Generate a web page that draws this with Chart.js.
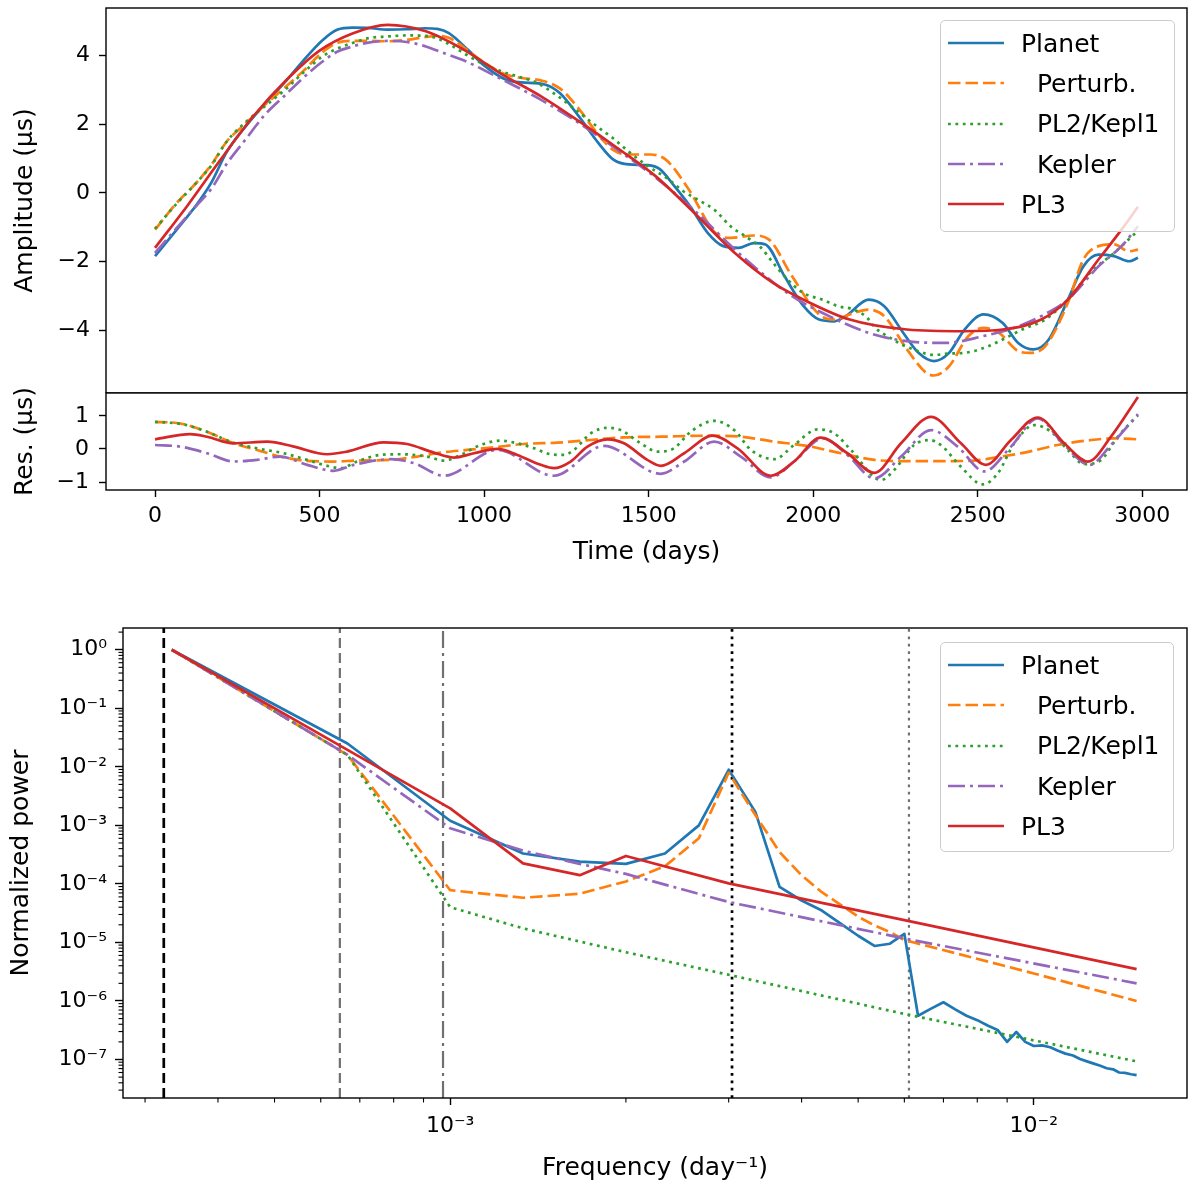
<!DOCTYPE html>
<html>
<head>
<meta charset="utf-8">
<title>Timing amplitude, residuals and power spectrum</title>
<script src="https://cdn.jsdelivr.net/npm/chart.js@4.4.1/dist/chart.umd.min.js"></script>
<style>
  html, body { margin: 0; padding: 0; background: #fff; }
  #fig { position: relative; width: 1200px; height: 1190px; overflow: hidden; font-family: "DejaVu Sans", sans-serif; }
  #fig canvas { position: absolute; left: 0; }
  .legend { position: absolute; box-sizing: border-box; background: rgba(255,255,255,0.8); border: 1.3px solid #cccccc; border-radius: 5px; padding: 2px 0 0 7px; }
  .legend .row { display: flex; align-items: center; height: 40.3px; font-size: 25px; color: #000; white-space: pre; }
  .legend svg { margin-right: 17px; flex: none; }
</style>
</head>
<body>
<div id="fig">
  <canvas id="amp" width="1200" height="393" style="top:0px"></canvas>
  <canvas id="res" width="1200" height="215" style="top:360px"></canvas>
  <canvas id="psd" width="1200" height="590" style="top:600px"></canvas>
  <div class="legend" id="legTop" style="left:940px; top:20px; width:235px; height:212px"></div>
  <div class="legend" id="legBot" style="left:940px; top:642px; width:234px; height:210px"></div>
</div>
<script>
// ---------- top panel: amplitude (µs) vs time (days) ----------
const planetDays = [0, 66, 125, 171, 218, 276, 334, 392, 450, 509, 555, 600, 648, 707, 765, 820, 858, 893, 951, 997, 1067, 1114, 1184, 1230, 1288, 1347, 1393, 1440, 1498, 1533, 1579, 1626, 1680, 1727, 1773, 1820, 1855, 1913, 1971, 2018, 2064, 2099, 2169, 2216, 2274, 2320, 2367, 2413, 2460, 2518, 2576, 2623, 2670, 2716, 2774, 2821, 2867, 2914, 2960, 2987];
const planetAmp = [-1.84, -1.07, -0.36, 0.30, 1.20, 1.95, 2.60, 3.20, 3.85, 4.45, 4.76, 4.82, 4.81, 4.76, 4.77, 4.80, 4.78, 4.66, 4.17, 3.74, 3.30, 3.22, 3.16, 2.91, 2.23, 1.46, 0.97, 0.83, 0.81, 0.70, 0.19, -0.39, -1.17, -1.55, -1.60, -1.46, -1.50, -2.43, -3.30, -3.69, -3.74, -3.59, -3.11, -3.30, -4.08, -4.66, -4.90, -4.66, -3.98, -3.54, -3.79, -4.37, -4.56, -4.27, -3.11, -2.14, -1.80, -1.84, -1.99, -1.89];

const perturbDays = [0, 66, 125, 171, 218, 276, 334, 392, 450, 509, 555, 600, 650, 707, 765, 820, 858, 893, 951, 997, 1067, 1114, 1172, 1230, 1288, 1347, 1393, 1440, 1505, 1552, 1622, 1703, 1750, 1820, 1866, 1936, 2018, 2064, 2111, 2169, 2216, 2285, 2343, 2367, 2413, 2472, 2518, 2565, 2623, 2658, 2705, 2774, 2821, 2867, 2914, 2960, 2987];
const perturbAmp = [-1.07, -0.29, 0.29, 0.82, 1.50, 2.03, 2.57, 3.05, 3.55, 4.10, 4.38, 4.43, 4.43, 4.42, 4.46, 4.54, 4.58, 4.52, 4.15, 3.82, 3.45, 3.35, 3.28, 3.05, 2.45, 1.70, 1.25, 1.12, 1.12, 0.97, 0.10, -1.17, -1.31, -1.24, -1.36, -2.43, -3.54, -3.69, -3.54, -3.40, -3.59, -4.56, -5.24, -5.32, -5.05, -4.17, -3.93, -4.08, -4.61, -4.66, -4.47, -3.20, -1.94, -1.55, -1.50, -1.70, -1.65];

const pl2Days = [0, 66, 125, 171, 218, 276, 334, 392, 450, 509, 555, 600, 648, 707, 765, 820, 858, 900, 951, 997, 1060, 1114, 1156, 1220, 1288, 1347, 1391, 1440, 1498, 1560, 1605, 1650, 1701, 1750, 1797, 1840, 1871, 1920, 1967, 2031, 2075, 2117, 2160, 2191, 2230, 2266, 2310, 2367, 2413, 2460, 2518, 2576, 2635, 2705, 2774, 2844, 2914, 2987];
const pl2Amp = [-1.04, -0.31, 0.29, 0.80, 1.50, 2.07, 2.53, 2.98, 3.50, 3.98, 4.21, 4.37, 4.51, 4.56, 4.59, 4.58, 4.50, 4.30, 4.00, 3.76, 3.52, 3.36, 3.23, 2.85, 2.35, 1.91, 1.60, 1.20, 0.78, 0.40, 0.05, -0.20, -0.50, -0.98, -1.28, -1.58, -1.95, -2.50, -2.90, -3.12, -3.30, -3.38, -3.60, -3.95, -4.20, -4.40, -4.58, -4.72, -4.68, -4.66, -4.52, -4.27, -3.98, -3.69, -3.10, -2.30, -1.75, -1.10];

const keplerDays = [0, 66, 125, 171, 218, 276, 334, 392, 450, 509, 555, 600, 648, 707, 765, 823, 879, 939, 1056, 1172, 1288, 1405, 1521, 1649, 1762, 1843, 1936, 2029, 2169, 2285, 2402, 2518, 2611, 2693, 2774, 2867, 2937, 2987];
const keplerAmp = [-1.75, -1.02, -0.38, 0.12, 0.85, 1.57, 2.28, 2.82, 3.35, 3.83, 4.12, 4.27, 4.38, 4.43, 4.40, 4.27, 4.07, 3.86, 3.30, 2.72, 2.04, 1.26, 0.45, -0.60, -1.65, -2.33, -3.01, -3.50, -4.08, -4.32, -4.37, -4.17, -3.93, -3.59, -3.11, -2.14, -1.55, -0.97];

const pl3Days = [0, 100, 200, 300, 400, 500, 600, 707, 823, 939, 1056, 1172, 1288, 1405, 1521, 1649, 1762, 1878, 1971, 2111, 2285, 2460, 2576, 2693, 2774, 2867, 2937, 2987];
const pl3Amp = [-1.60, -0.35, 0.98, 2.25, 3.30, 4.15, 4.65, 4.90, 4.71, 4.17, 3.45, 2.82, 2.09, 1.31, 0.49, -0.68, -1.75, -2.62, -3.11, -3.69, -3.98, -4.03, -3.98, -3.69, -3.11, -1.94, -1.07, -0.40];

// ---------- middle panel: residuals (µs) ----------
const perturbResDays = [0, 77, 158, 239, 310, 381, 462, 543, 614, 716, 797, 868, 949, 1030, 1121, 1223, 1324, 1425, 1537, 1679, 1780, 1882, 1983, 2084, 2186, 2287, 2388, 2490, 2571, 2642, 2743, 2845, 2916, 2987];
const perturbRes = [0.82, 0.77, 0.52, 0.17, -0.03, -0.23, -0.36, -0.38, -0.35, -0.33, -0.23, -0.11, -0.03, 0.05, 0.15, 0.19, 0.27, 0.35, 0.37, 0.40, 0.37, 0.22, 0.09, -0.13, -0.33, -0.37, -0.37, -0.35, -0.23, -0.11, 0.12, 0.27, 0.32, 0.29];

const pl2ResDays = [0, 87, 158, 229, 310, 391, 462, 523, 564, 614, 685, 746, 827, 878, 929, 989, 1050, 1101, 1152, 1202, 1243, 1273, 1324, 1375, 1415, 1476, 1527, 1577, 1628, 1699, 1760, 1811, 1882, 1942, 2013, 2064, 2115, 2206, 2246, 2307, 2353, 2388, 2449, 2515, 2561, 2611, 2672, 2723, 2774, 2824, 2875, 2926, 2987];
const pl2Res = [0.82, 0.74, 0.52, 0.22, 0.02, -0.13, -0.33, -0.51, -0.58, -0.38, -0.18, -0.16, -0.23, -0.35, -0.18, 0.12, 0.25, 0.17, 0.02, -0.16, -0.18, -0.03, 0.47, 0.64, 0.57, 0.17, -0.08, 0.02, 0.52, 0.85, 0.57, -0.03, -0.31, 0.12, 0.59, 0.47, -0.03, -0.94, -0.64, 0.12, 0.27, 0.12, -0.54, -1.07, -0.74, 0.17, 0.72, 0.52, -0.03, -0.46, -0.33, 0.37, 1.02];

const keplerResDays = [0, 77, 158, 239, 310, 381, 462, 543, 604, 716, 787, 878, 1040, 1212, 1364, 1537, 1608, 1699, 1780, 1871, 1942, 2029, 2104, 2186, 2267, 2358, 2439, 2520, 2601, 2682, 2763, 2840, 2905, 2987];
const keplerRes = [0.12, 0.07, -0.13, -0.38, -0.33, -0.23, -0.48, -0.66, -0.48, -0.31, -0.43, -0.81, -0.03, -0.81, 0.09, -0.75, -0.38, 0.22, -0.23, -0.86, -0.38, 0.32, -0.18, -0.89, -0.23, 0.57, 0.07, -0.68, 0.07, 0.92, 0.12, -0.48, 0.12, 1.05];

const pl3ResDays = [0, 107, 158, 239, 341, 422, 523, 584, 695, 766, 847, 908, 969, 1040, 1101, 1172, 1212, 1263, 1314, 1375, 1425, 1496, 1537, 1608, 1694, 1770, 1871, 1942, 2023, 2104, 2186, 2267, 2358, 2449, 2525, 2601, 2682, 2763, 2835, 2905, 2987];
const pl3Res = [0.29, 0.45, 0.37, 0.17, 0.22, 0.07, -0.16, -0.08, 0.20, 0.15, -0.11, -0.26, -0.13, 0.00, -0.18, -0.48, -0.58, -0.38, 0.07, 0.29, 0.17, -0.33, -0.51, -0.13, 0.40, 0.02, -0.81, -0.38, 0.34, -0.13, -0.72, 0.17, 0.97, 0.17, -0.48, 0.27, 0.95, 0.17, -0.38, 0.37, 1.57];

// ---------- bottom panel: normalized power vs frequency (day^-1) ----------
const freqs = [3.333e-4, 6.667e-4, 1.0e-3, 1.333e-3, 1.667e-3, 2.0e-3, 2.333e-3, 2.667e-3, 3.0e-3, 3.333e-3,
  3.667e-3, 4.0e-3, 4.333e-3, 4.667e-3, 5.0e-3, 5.333e-3, 5.667e-3, 6.0e-3, 6.333e-3, 6.667e-3,
  7.0e-3, 7.333e-3, 7.667e-3, 8.0e-3, 8.333e-3, 8.667e-3, 9.0e-3, 9.333e-3, 9.667e-3, 1.0e-2,
  1.033e-2, 1.067e-2, 1.1e-2, 1.133e-2, 1.167e-2, 1.2e-2, 1.233e-2, 1.267e-2, 1.3e-2, 1.333e-2,
  1.367e-2, 1.4e-2, 1.433e-2, 1.467e-2, 1.5e-2];
const planetPow = [1.0, 2.5e-2, 1.2e-3, 3.3e-4, 2.4e-4, 2.2e-4, 3.3e-4, 1.0e-3, 8.9e-3, 1.7e-3,
  8.9e-5, 5.2e-5, 3.5e-5, 2.1e-5, 1.3e-5, 8.7e-6, 9.5e-6, 1.4e-5, 5.6e-7, 7.4e-7,
  9.5e-7, 7.2e-7, 5.6e-7, 4.7e-7, 3.8e-7, 3.2e-7, 2.0e-7, 2.95e-7, 2.0e-7, 1.7e-7,
  1.74e-7, 1.62e-7, 1.41e-7, 1.26e-7, 1.17e-7, 1.02e-7, 9.3e-8, 8.5e-8, 7.8e-8, 7.1e-8,
  6.8e-8, 6.0e-8, 5.9e-8, 5.6e-8, 5.4e-8];

const perturbFreqs = [3.333e-4, 6.667e-4, 1.0e-3, 1.333e-3, 1.667e-3, 2.0e-3, 2.333e-3, 2.667e-3, 3.0e-3, 3.333e-3, 3.667e-3, 4.0e-3, 4.333e-3, 4.667e-3, 5.0e-3, 5.333e-3, 5.667e-3, 6.0e-3, 1.0e-2, 1.5e-2];
const perturbPow = [1.0, 1.6e-2, 7.8e-5, 5.8e-5, 6.8e-5, 1.1e-4, 2.0e-4, 6.0e-4, 7.9e-3, 1.5e-3, 3.5e-4, 1.4e-4, 7.2e-5, 4.4e-5, 2.75e-5, 1.95e-5, 1.5e-5, 1.1e-5, 2.95e-6, 1.0e-6];

const pl2Freqs = [3.333e-4, 6.667e-4, 1.0e-3, 1.333e-3, 2.0e-3, 3.0e-3, 6.0e-3, 1.5e-2];
const pl2Pow = [1.0, 1.6e-2, 4.0e-5, 1.74e-5, 6.8e-6, 2.8e-6, 6.0e-7, 9.3e-8];

const keplerFreqs = [3.333e-4, 6.667e-4, 1.0e-3, 1.333e-3, 1.667e-3, 2.0e-3, 3.0e-3, 6.0e-3, 1.5e-2];
const keplerPow = [1.0, 1.6e-2, 8.9e-4, 3.7e-4, 2.2e-4, 1.48e-4, 4.9e-5, 1.17e-5, 2.0e-6];

const pl3Freqs = [3.333e-4, 6.667e-4, 1.0e-3, 1.333e-3, 1.667e-3, 2.0e-3, 3.0e-3, 6.0e-3, 1.5e-2];
const pl3Pow = [1.0, 1.95e-2, 1.95e-3, 2.24e-4, 1.41e-4, 3.0e-4, 1.02e-4, 2.4e-5, 3.5e-6];

const markerFreqs = [3.23e-4, 6.47e-4, 9.72e-4, 3.04e-3, 6.11e-3];

// ---------- ticks and axis ranges ----------
const dayTicks = [0, 500, 1000, 1500, 2000, 2500, 3000];
const ampTicks = [-4, -2, 0, 2, 4];
const resTicks = [-1, 0, 1];
const freqTicks = [1e-3, 1e-2];
const freqTickLabels = ['10⁻³', '10⁻²'];
const powTicks = [1, 1e-1, 1e-2, 1e-3, 1e-4, 1e-5, 1e-6, 1e-7];
const powTickLabels = ['10⁰', '10⁻¹', '10⁻²', '10⁻³', '10⁻⁴', '10⁻⁵', '10⁻⁶', '10⁻⁷'];

const dayMin = -149, dayMax = 3136;
const ampMin = -5.83, ampMax = 5.39;
const resMin = -1.24, resMax = 1.69;
const freqMin = 2.75e-4, freqMax = 1.83e-2;
const powMin = 2.2e-8, powMax = 2.35;

// ---------- styles ----------
const LW = 2.7;
const SOLID = [], DASHED = [12.5, 5], DOTTED = [2.8, 4.6], DASHDOT = [17, 5, 3, 5];
const styles = {
  planet:  { label: 'Planet',      color: '#1f77b4', dash: SOLID },
  perturb: { label: '  Perturb.',  color: '#ff7f0e', dash: DASHED },
  pl2:     { label: '  PL2/Kepl1', color: '#2ca02c', dash: DOTTED },
  kepler:  { label: '  Kepler',    color: '#9467bd', dash: DASHDOT },
  pl3:     { label: 'PL3',         color: '#d62728', dash: SOLID }
};
const legendOrder = ['planet', 'perturb', 'pl2', 'kepler', 'pl3'];
const markerStyles = [
  { color: '#000000', dash: [10, 5], width: 2.7 },
  { color: '#707070', dash: [10, 5], width: 2.2 },
  { color: '#707070', dash: [17, 5, 3, 5], width: 2.2 },
  { color: '#000000', dash: [2.8, 4.6], width: 2.7 },
  { color: '#707070', dash: [2.8, 4.6], width: 2.2 }
];

Chart.defaults.font.family = 'DejaVu Sans';
Chart.defaults.color = '#000';
const tickFont = { family: 'DejaVu Sans', size: 22 };
const titleFont = { family: 'DejaVu Sans', size: 25 };

function series(key, xs, ys, smooth) {
  const s = styles[key];
  return {
    label: s.label.trim(),
    data: xs.map((x, i) => ({ x: x, y: ys[i] })),
    borderColor: s.color,
    borderDash: s.dash,
    borderWidth: LW,
    borderJoinStyle: 'round',
    pointRadius: 0,
    fill: false,
    cubicInterpolationMode: smooth ? 'monotone' : 'default',
    tension: 0,
    order: 10 - legendOrder.indexOf(key)
  };
}

function minus(v) { return v < 0 ? '\u2212' + Math.abs(v) : String(v); }

// fixed axis box sizes so the plot areas land where the figure has them
function fixed(w, h) {
  return function (sc) {
    if (w !== null) sc.width = w;
    if (h !== null) sc.height = h;
    sc.paddingTop = 0; sc.paddingBottom = 0; sc.paddingLeft = 0; sc.paddingRight = 0;
  };
}
function tickAt(vals) { return function (sc) { sc.ticks = vals.map(v => ({ value: v })); }; }

function axis(o) {
  return {
    type: o.type || 'linear',
    min: o.min, max: o.max,
    display: o.display !== false,
    afterBuildTicks: tickAt(o.ticks || []),
    afterFit: fixed(o.w === undefined ? null : o.w, o.h === undefined ? null : o.h),
    ticks: { autoSkip: false, maxRotation: 0, padding: o.pad, color: '#000', font: tickFont, callback: o.fmt },
    grid: { drawOnChartArea: false, drawTicks: true, tickLength: o.tl || 7, tickWidth: 1.4, tickColor: '#000' },
    border: { display: false },
    title: o.title ? { display: true, text: o.title, color: '#000', font: titleFont, padding: o.tpad } : { display: false }
  };
}

const frame = {
  id: 'frame',
  afterDraw(chart) {
    const a = chart.chartArea, ctx = chart.ctx;
    ctx.save();
    ctx.strokeStyle = '#000';
    ctx.lineWidth = 1.4;
    ctx.strokeRect(a.left, a.top, a.right - a.left, a.bottom - a.top);
    ctx.restore();
  }
};

function minorValues(lo, hi) {
  const out = [];
  for (let e = Math.floor(Math.log10(lo)); e <= Math.ceil(Math.log10(hi)); e++) {
    for (let m = 2; m <= 9; m++) {
      const v = m * Math.pow(10, e);
      if (v >= lo && v <= hi) out.push(v);
    }
  }
  return out;
}

const minorTicks = {
  id: 'minorTicks',
  afterDraw(chart, args, opts) {
    if (!opts.axes) return;
    const ctx = chart.ctx;
    ctx.save();
    ctx.strokeStyle = '#000';
    ctx.lineWidth = 1.1;
    opts.axes.forEach(id => {
      const sc = chart.scales[id];
      minorValues(sc.min, sc.max).forEach(v => {
        const p = sc.getPixelForValue(v);
        ctx.beginPath();
        if (sc.isHorizontal()) { ctx.moveTo(p, sc.top); ctx.lineTo(p, sc.top + 4.5); }
        else { ctx.moveTo(sc.right, p); ctx.lineTo(sc.right - 4.5, p); }
        ctx.stroke();
      });
    });
    ctx.restore();
  }
};
Chart.register(frame, minorTicks);

function baseOptions(padding, scales, extra) {
  return {
    responsive: false,
    animation: false,
    devicePixelRatio: 1,
    events: [],
    layout: { padding: padding },
    plugins: Object.assign({ legend: { display: false }, tooltip: { enabled: false } }, extra || {}),
    scales: scales
  };
}

// top: amplitude
new Chart(document.getElementById('amp'), {
  type: 'line',
  data: {
    datasets: [
      series('planet', planetDays, planetAmp, true),
      series('perturb', perturbDays, perturbAmp, true),
      series('pl2', pl2Days, pl2Amp, true),
      series('kepler', keplerDays, keplerAmp, true),
      series('pl3', pl3Days, pl3Amp, true)
    ]
  },
  options: baseOptions({ top: 8, right: 13, bottom: 0, left: 0 }, {
    x: axis({ min: dayMin, max: dayMax, display: false }),
    y: axis({ min: ampMin, max: ampMax, ticks: ampTicks, fmt: minus, pad: 9, w: 106,
              title: 'Amplitude (µs)', tpad: { top: 10, bottom: 0 } })
  })
});

// middle: residuals (canvas starts above the panel so the rotated title is not clipped)
new Chart(document.getElementById('res'), {
  type: 'line',
  data: {
    datasets: [
      series('perturb', perturbResDays, perturbRes, true),
      series('pl2', pl2ResDays, pl2Res, true),
      series('kepler', keplerResDays, keplerRes, true),
      series('pl3', pl3ResDays, pl3Res, true)
    ]
  },
  options: baseOptions({ top: 33, right: 13, bottom: 0, left: 0 }, {
    x: axis({ min: dayMin, max: dayMax, ticks: dayTicks, fmt: v => String(v), pad: 6, h: 85,
              title: 'Time (days)', tpad: { top: 0, bottom: 8 } }),
    y: axis({ min: resMin, max: resMax, ticks: resTicks, fmt: minus, pad: 10, w: 106,
              title: 'Res. (µs)', tpad: { top: 10, bottom: 0 } })
  })
});

// bottom: power spectrum
const markerSets = markerFreqs.map((f, i) => ({
  label: 'marker',
  data: [{ x: f, y: powMin }, { x: f, y: powMax }],
  borderColor: markerStyles[i].color,
  borderDash: markerStyles[i].dash,
  borderWidth: markerStyles[i].width,
  pointRadius: 0,
  fill: false,
  order: 20
}));

new Chart(document.getElementById('psd'), {
  type: 'line',
  data: {
    datasets: markerSets.concat([
      series('planet', freqs, planetPow, false),
      series('perturb', perturbFreqs, perturbPow, false),
      series('pl2', pl2Freqs, pl2Pow, false),
      series('kepler', keplerFreqs, keplerPow, false),
      series('pl3', pl3Freqs, pl3Pow, false)
    ])
  },
  options: baseOptions({ top: 28, right: 13, bottom: 0, left: 0 }, {
    x: axis({ type: 'logarithmic', min: freqMin, max: freqMax, ticks: freqTicks,
              fmt: (v, i) => freqTickLabels[i], pad: 8, h: 92,
              title: 'Frequency (day⁻¹)', tpad: { top: 0, bottom: 7 } }),
    y: axis({ type: 'logarithmic', min: powMin, max: powMax, ticks: powTicks,
              fmt: (v, i) => powTickLabels[i], pad: 8, w: 123, tl: 8,
              title: 'Normalized power', tpad: { top: 6, bottom: 0 } })
  }, { minorTicks: { axes: ['x', 'y'] } })
});

// legends (same entries in both panels)
function buildLegend(id) {
  const box = document.getElementById(id);
  legendOrder.forEach(key => {
    const s = styles[key];
    const row = document.createElement('div');
    row.className = 'row';
    const dash = s.dash.length ? s.dash.join(' ') : 'none';
    row.innerHTML = '<svg width="56" height="10"><line x1="0" y1="5" x2="56" y2="5" stroke="' + s.color +
      '" stroke-width="' + LW + '" stroke-dasharray="' + dash + '"/></svg>';
    const span = document.createElement('span');
    span.textContent = s.label;
    row.appendChild(span);
    box.appendChild(row);
  });
}
buildLegend('legTop');
buildLegend('legBot');
</script>
</body>
</html>
